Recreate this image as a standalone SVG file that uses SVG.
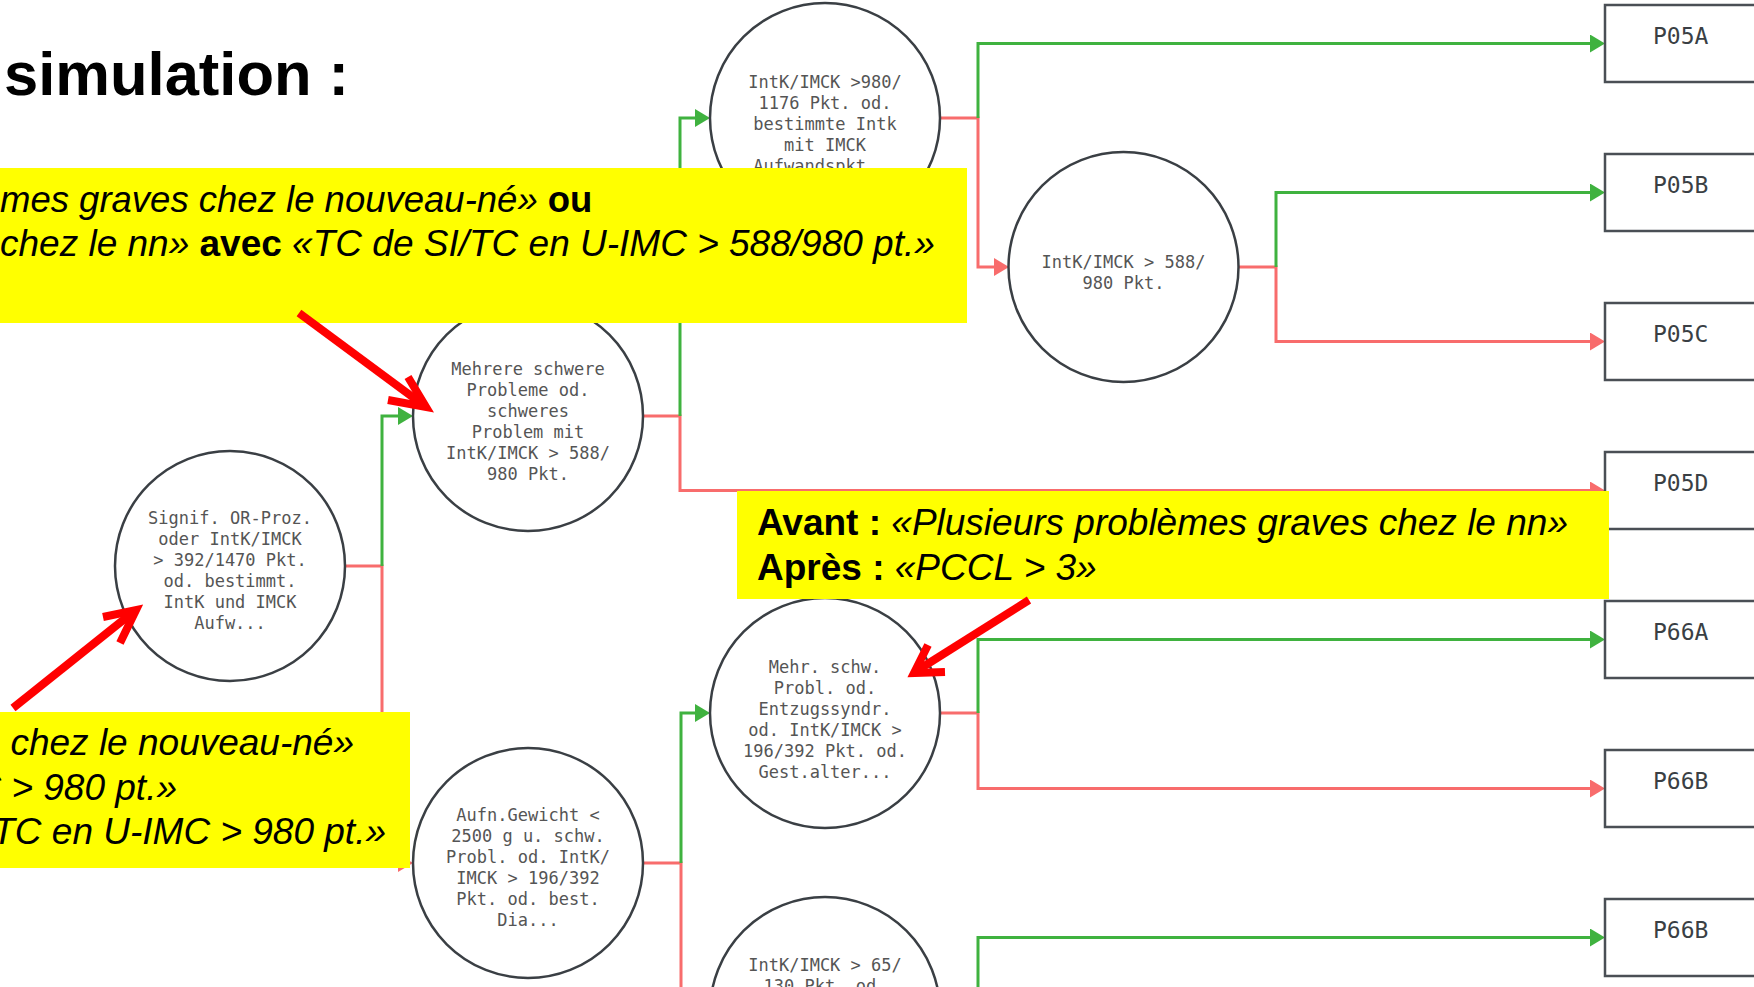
<svg xmlns="http://www.w3.org/2000/svg" width="1754" height="987" viewBox="0 0 1754 987">
<style>
.node circle{fill:#fff;stroke:#3a3f44;stroke-width:2.5}
.node rect{fill:#fff;stroke:#4a4f55;stroke-width:2.5}
.ct{font-family:"DejaVu Sans Mono",monospace;font-size:17px;fill:#555;text-anchor:middle}
.bt{font-family:"DejaVu Sans Mono",monospace;font-size:23px;fill:#3a3f44}
.g{fill:none;stroke:#3fb23f;stroke-width:3}
.r{fill:none;stroke:#f86c6c;stroke-width:3}
.note{fill:#ffff00}
.nt{font-family:"Liberation Sans",Arial,sans-serif;font-size:37px;fill:#000}
.i{font-style:italic}
.b{font-weight:bold}
.ann{fill:none;stroke:#ff0000;stroke-width:8;stroke-linejoin:miter}
</style>
<defs>
<marker id="ag" markerUnits="userSpaceOnUse" markerWidth="16" markerHeight="20" refX="2" refY="9" orient="auto"><path d="M0,0 L15,9 L0,18 z" fill="#3fb23f"/></marker>
<marker id="ar" markerUnits="userSpaceOnUse" markerWidth="16" markerHeight="20" refX="2" refY="9" orient="auto"><path d="M0,0 L15,9 L0,18 z" fill="#f86c6c"/></marker>
</defs>
<rect width="1754" height="987" fill="#fff"/>
<g id="connectors">
<path class="r" d="M345,566 H382 V863 H400" marker-end="url(#ar)"/>
<path class="r" d="M643,416 H680 V490.5 H1592" marker-end="url(#ar)"/>
<path class="r" d="M940,118 H978 V267 H996" marker-end="url(#ar)"/>
<path class="r" d="M1238,267 H1276 V341.5 H1592" marker-end="url(#ar)"/>
<path class="r" d="M643,863 H681 V1012 H697" marker-end="url(#ar)"/>
<path class="r" d="M940,713 H978 V788.5 H1592" marker-end="url(#ar)"/>
<path class="r" d="M940,1012 H978 V1100"/>
<path class="g" d="M382,566 V416 H400" marker-end="url(#ag)"/>
<path class="g" d="M680,416 V118 H697" marker-end="url(#ag)"/>
<path class="g" d="M978,118 V43.5 H1592" marker-end="url(#ag)"/>
<path class="g" d="M1276,267 V192.5 H1592" marker-end="url(#ag)"/>
<path class="g" d="M681,863 V713 H697" marker-end="url(#ag)"/>
<path class="g" d="M978,713 V639.5 H1592" marker-end="url(#ag)"/>
<path class="g" d="M978,1012 V937.5 H1592" marker-end="url(#ag)"/>
</g>
<g id="n-top" class="node"><circle cx="825" cy="118" r="115"/>
<text class="ct"><tspan x="825" y="88">IntK/IMCK &gt;980/</tspan><tspan x="825" y="109">1176 Pkt. od.</tspan><tspan x="825" y="130">bestimmte Intk</tspan><tspan x="825" y="151">mit IMCK</tspan><tspan x="825" y="172">Aufwandspkt...</tspan></text></g>
<g id="n-588" class="node"><circle cx="1123.5" cy="267" r="115"/>
<text class="ct"><tspan x="1123.5" y="268">IntK/IMCK &gt; 588/</tspan><tspan x="1123.5" y="289">980 Pkt.</tspan></text></g>
<g id="n-signif" class="node"><circle cx="230" cy="566" r="115"/>
<text class="ct"><tspan x="230" y="524">Signif. OR-Proz.</tspan><tspan x="230" y="545">oder IntK/IMCK</tspan><tspan x="230" y="566">&gt; 392/1470 Pkt.</tspan><tspan x="230" y="587">od. bestimmt.</tspan><tspan x="230" y="608">IntK und IMCK</tspan><tspan x="230" y="629">Aufw...</tspan></text></g>
<g id="n-mehrere" class="node"><circle cx="528" cy="416" r="115"/>
<text class="ct"><tspan x="528" y="375">Mehrere schwere</tspan><tspan x="528" y="396">Probleme od.</tspan><tspan x="528" y="417">schweres</tspan><tspan x="528" y="438">Problem mit</tspan><tspan x="528" y="459">IntK/IMCK &gt; 588/</tspan><tspan x="528" y="480">980 Pkt.</tspan></text></g>
<g id="n-mehr" class="node"><circle cx="825" cy="713" r="115"/>
<text class="ct"><tspan x="825" y="673">Mehr. schw.</tspan><tspan x="825" y="694">Probl. od.</tspan><tspan x="825" y="715">Entzugssyndr.</tspan><tspan x="825" y="736">od. IntK/IMCK &gt;</tspan><tspan x="825" y="757">196/392 Pkt. od.</tspan><tspan x="825" y="778">Gest.alter...</tspan></text></g>
<g id="n-aufn" class="node"><circle cx="528" cy="863" r="115"/>
<text class="ct"><tspan x="528" y="821">Aufn.Gewicht &lt;</tspan><tspan x="528" y="842">2500 g u. schw.</tspan><tspan x="528" y="863">Probl. od. IntK/</tspan><tspan x="528" y="884">IMCK &gt; 196/392</tspan><tspan x="528" y="905">Pkt. od. best.</tspan><tspan x="528" y="926">Dia...</tspan></text></g>
<g id="n-65" class="node"><circle cx="825" cy="1012" r="115"/>
<text class="ct"><tspan x="825" y="971">IntK/IMCK &gt; 65/</tspan><tspan x="825" y="992">130 Pkt. od.</tspan></text></g>
<g id="b-p05a" class="node"><rect x="1605" y="5" width="170" height="77"/><text class="bt" x="1653" y="44">P05A</text></g>
<g id="b-p05b" class="node"><rect x="1605" y="154" width="170" height="77"/><text class="bt" x="1653" y="193">P05B</text></g>
<g id="b-p05c" class="node"><rect x="1605" y="303" width="170" height="77"/><text class="bt" x="1653" y="342">P05C</text></g>
<g id="b-p05d" class="node"><rect x="1605" y="452" width="170" height="77"/><text class="bt" x="1653" y="491">P05D</text></g>
<g id="b-p66a" class="node"><rect x="1605" y="601" width="170" height="77"/><text class="bt" x="1653" y="640">P66A</text></g>
<g id="b-p66b" class="node"><rect x="1605" y="750" width="170" height="77"/><text class="bt" x="1653" y="789">P66B</text></g>
<g id="b-p66b2" class="node"><rect x="1605" y="899" width="170" height="77"/><text class="bt" x="1653" y="938">P66B</text></g>
<g id="note-top">
<rect class="note" x="0" y="168" width="967" height="155"/>
<text class="nt" x="0" y="212" style="font-size:36.5px"><tspan class="i">mes graves chez le nouveau-né» </tspan><tspan class="b">ou</tspan></text>
<text class="nt" x="0" y="256"><tspan class="i">chez le nn» </tspan><tspan class="b">avec</tspan><tspan class="i"> «TC de SI/TC en U-IMC &gt; 588/980 pt.»</tspan></text>
</g>
<g id="note-avant">
<rect class="note" x="737" y="491" width="872" height="108"/>
<text class="nt" x="757" y="535"><tspan class="b">Avant : </tspan><tspan class="i">«Plusieurs problèmes graves chez le nn»</tspan></text>
<text class="nt" x="757" y="580"><tspan class="b">Après : </tspan><tspan class="i">«PCCL &gt; 3»</tspan></text>
</g>
<g id="note-left">
<rect class="note" x="0" y="712" width="410" height="156"/>
<text class="nt i" x="354" y="755" text-anchor="end">s chez le nouveau-né»</text>
<text class="nt i" x="177" y="800" text-anchor="end">C &gt; 980 pt.»</text>
<text class="nt i" x="386" y="844" text-anchor="end">TC en U-IMC &gt; 980 pt.»</text>
</g>
<g id="annotations">
<path class="ann" d="M299,313 L422,404"/>
<path class="ann" d="M388,400 L426,407 L408,377"/>
<path class="ann" d="M13,708 L132,613"/>
<path class="ann" d="M103,617 L136,610 L120,643"/>
<path class="ann" d="M1029,600 L918,670"/>
<path class="ann" d="M928,645 L914,673 L945,672"/>
</g>
<text id="title" x="4" y="95" style="font-family:'Liberation Sans',Arial,sans-serif;font-size:61.5px;font-weight:bold;fill:#000">simulation :</text>
</svg>
